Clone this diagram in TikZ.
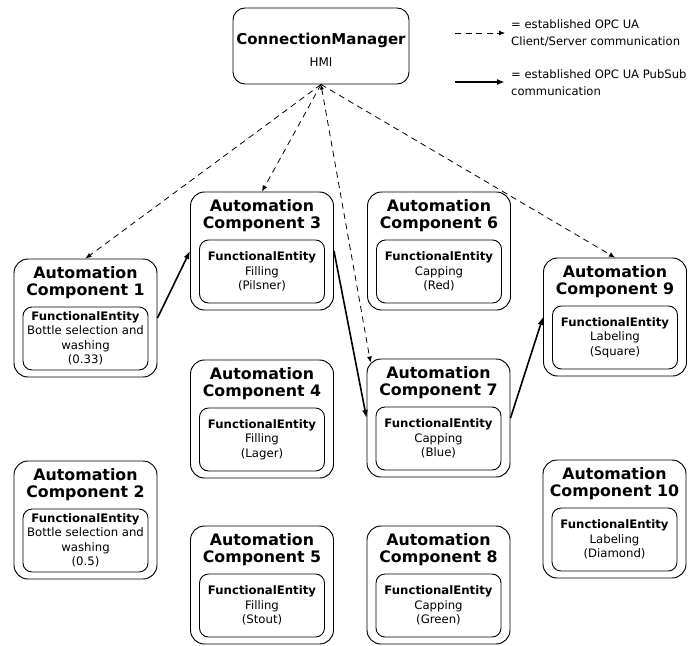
\documentclass[tikz,border=0pt]{standalone}
\usepackage{fontspec}
\setmainfont{DejaVu Sans}
\usetikzlibrary{arrows.meta}
\newcommand\acnode[5]{%
 \node[outerbox] (#1) at (#2, #3+59) {};
 \node[titletext] (#1t) at (#2, #3+24) {Automation\\Component #4};
 \node[innerbox] (#1i) at (#2, #3+79.5) {#5};
}
\begin{document}
\begin{tikzpicture}[x=1pt,y=-1pt,
 outerbox/.style={draw, line width=0.95pt, rounded corners=14pt, minimum width=143pt, minimum height=118pt, inner sep=0pt},
 innerbox/.style={draw, line width=0.9pt, rounded corners=9pt, minimum width=125pt, minimum height=63pt, inner sep=0pt, align=center, font=\fontsize{11.7}{14.5}\selectfont},
 titletext/.style={align=center, font=\bfseries\fontsize{15.8}{17}\selectfont, inner sep=0pt},
 legtext/.style={align=left, anchor=west, inner sep=0pt, font=\fontsize{11.6}{17}\selectfont},
 cs/.style={dash pattern=on 6pt off 4.5pt, line width=0.8pt, -{Latex[length=6pt,width=5pt]}},
 ps/.style={line width=1.6pt, -{Latex[length=8pt,width=6pt]}},
]
\useasboundingbox (0,0) rectangle (695,645);

% Connection manager
\node[draw, line width=0.95pt, rounded corners=12pt, minimum width=176pt, minimum height=76pt, inner sep=0pt] (cm) at (321,46) {};
\node[inner sep=0pt, font=\bfseries\fontsize{15}{17}\selectfont] (cmt) at (321,40) {ConnectionManager};
\node[inner sep=0pt, font=\fontsize{12}{14}\selectfont] (cmh) at (321,62) {HMI};

% Legend
\coordinate (la1) at (455,33);
\coordinate (la2) at (505,33);
\coordinate (lb1) at (455,82);
\coordinate (lb2) at (505,82);
\draw[cs] (la1) -- (la2);
\draw[ps] (lb1) -- (lb2);
\node[legtext] (lt1) at (511,33.5) {= established OPC UA\\Client/Server communication};
\node[legtext] (lt2) at (511,82.5) {= established OPC UA PubSub\\communication};

% Automation components
\acnode{ac1}{85.5}{259}{1}{\textbf{FunctionalEntity}\\Bottle selection and\\washing\\(0.33)}
\acnode{ac2}{85.5}{461}{2}{\textbf{FunctionalEntity}\\Bottle selection and\\washing\\(0.5)}
\acnode{ac3}{262}{192}{3}{\textbf{FunctionalEntity}\\Filling\\(Pilsner)}
\acnode{ac4}{262}{360}{4}{\textbf{FunctionalEntity}\\Filling\\(Lager)}
\acnode{ac5}{262}{526}{5}{\textbf{FunctionalEntity}\\Filling\\(Stout)}
\acnode{ac6}{439}{192}{6}{\textbf{FunctionalEntity}\\Capping\\(Red)}
\acnode{ac7}{438.5}{359}{7}{\textbf{FunctionalEntity}\\Capping\\(Blue)}
\acnode{ac8}{438.5}{526}{8}{\textbf{FunctionalEntity}\\Capping\\(Green)}
\acnode{ac9}{615}{258}{9}{\textbf{FunctionalEntity}\\Labeling\\(Square)}
\acnode{ac10}{614.5}{460}{10}{\textbf{FunctionalEntity}\\Labeling\\(Diamond)}

% Client/Server connections
\draw[cs] (cm.south) -- (ac1.north);
\draw[cs] (cm.south) -- (ac3.north);
\draw[cs, {Latex[length=5pt,width=4pt]}-{Latex[length=6pt,width=5pt]}] (cm.south) -- ([xshift=4pt,yshift=-4pt]ac7.north west);
\draw[cs] (cm.south) -- (ac9.north);

% PubSub connections
\draw[ps] (ac1.east) -- (ac3.west);
\draw[ps] (ac3.east) -- (ac7.west);
\draw[ps] (ac7.east) -- (ac9.west);
\end{tikzpicture}
\end{document}
